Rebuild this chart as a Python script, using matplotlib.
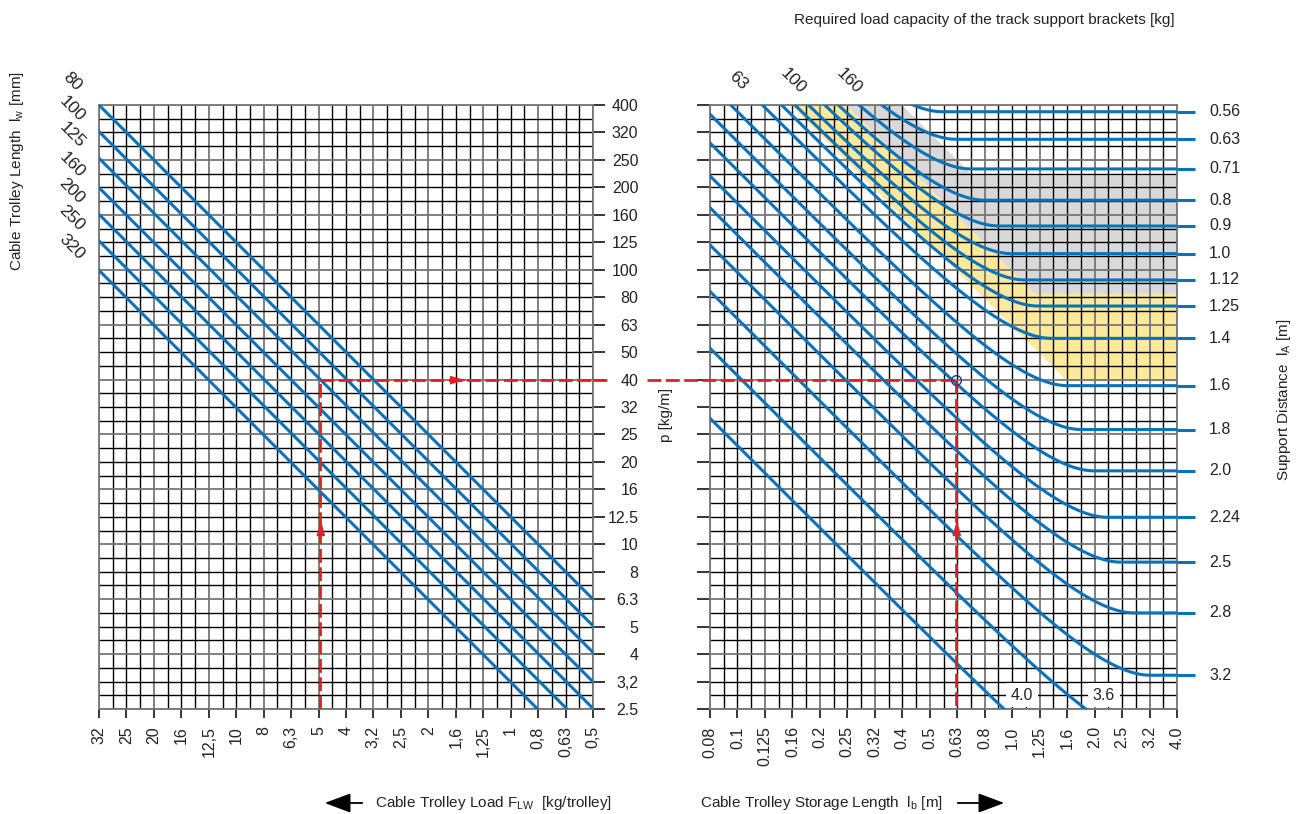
import numpy as np
import matplotlib.pyplot as plt
from matplotlib.patches import FancyArrowPatch
from matplotlib.ticker import NullFormatter
from matplotlib.transforms import blended_transform_factory

plt.rcParams['font.family'] = ['Liberation Sans', 'DejaVu Sans']
plt.rcParams['text.color'] = '#222222'

# tick labels (R10 series, one grid step apart)
p_labels = ['400', '320', '250', '200', '160', '125', '100', '80', '63', '50', '40', '32',
            '25', '20', '16', '12.5', '10', '8', '6.3', '5', '4', '3,2', '2.5']
F_labels = ['32', '25', '20', '16', '12,5', '10', '8', '6,3', '5', '4', '3,2', '2,5', '2',
            '1,6', '1,25', '1', '0,8', '0,63', '0,5']
lb_labels = ['0.08', '0.1', '0.125', '0.16', '0.2', '0.25', '0.32', '0.4', '0.5', '0.63',
             '0.8', '1.0', '1.25', '1.6', '2.0', '2.5', '3.2', '4.0']

# left chart: cable trolley length l_w [mm]
lw_mm = [80, 100, 125, 160, 200, 250, 320]

# right chart: support distance l_A [m] and the p level [kg/m] where each curve runs flat
lA_labels = ['0.56', '0.63', '0.71', '0.8', '0.9', '1.0', '1.12', '1.25', '1.4', '1.6',
             '1.8', '2.0', '2.24', '2.5', '2.8', '3.2', '3.6', '4.0']
lA = [0.56, 0.63, 0.71, 0.8, 0.9, 1.0, 1.12, 1.25, 1.4, 1.6, 1.8, 2.0, 2.24, 2.5, 2.8, 3.2, 3.6, 4.0]
p_flat = [378, 300, 234, 180, 145, 115, 92.2, 74.1, 56.5, 38.0, 26.3, 18.6, 12.6, 8.65, 5.65,
          3.35, 1.85, 0.925]

# required bracket capacity [kg] and the p level of the flat part of each zone border
bracket_kg = [63, 100, 160]
bracket_flat = [39.5, 82.4, 222.5]

# worked example
ex_F = 5
ex_p = 40
ex_lb = 0.63

BLUE = '#0a72b8'
RED = '#e1202a'
GREY = '#767676'
YELLOW = '#fde99c'
SHADE = '#d9d9d9'

W, H = 1306, 814
fig = plt.figure(figsize=(W / 100, H / 100), dpi=100)
ax1 = fig.add_axes([99 / W, 1 - 709 / H, 494 / W, 604 / H])
ax2 = fig.add_axes([710 / W, 1 - 709 / H, 467 / W, 604 / H])

p_pos = 400 * 10 ** (-0.1 * np.arange(len(p_labels)))
F_pos = 32 * 10 ** (-0.1 * np.arange(len(F_labels)))
lb_pos = 0.08 * 10 ** (0.1 * np.arange(len(lb_labels)))


def setup(ax, xpos, xlabels, xstep):
    ax.set_xscale('log')
    ax.set_yscale('log')
    ax.set_xlim(xpos[0], xpos[-1])
    ax.set_ylim(p_pos[-1], p_pos[0])
    ax.set_xticks(xpos, labels=xlabels)
    ax.set_xticks(xpos[:-1] * 10 ** (0.05 * xstep), minor=True)
    ax.set_yticks(p_pos, labels=p_labels)
    ax.set_yticks(p_pos[:-1] * 10 ** -0.05, minor=True)
    ax.xaxis.set_minor_formatter(NullFormatter())
    ax.yaxis.set_minor_formatter(NullFormatter())
    ax.tick_params(which='minor', length=0)
    ax.grid(True, which='both', color='black', lw=1.0)
    ax.set_axisbelow(True)
    ax.tick_params(axis='x', which='major', length=6.5, width=1.1, pad=6,
                   labelsize=11.5, labelrotation=90, labelcolor='#222222')
    for i, t in enumerate(ax.xaxis.get_major_ticks()):
        c = GREY if i % 2 == 0 else 'black'
        t.tick1line.set_color(c)
        t.gridline.set_color(c)
        t.gridline.set_linewidth(1.3 if i % 2 == 0 else 1.0)
    for i, t in enumerate(ax.yaxis.get_major_ticks()):
        c = GREY if i % 2 == 0 else 'black'
        t.tick1line.set_color(c)
        t.tick2line.set_color(c)
        t.gridline.set_color(c)
        t.gridline.set_linewidth(1.3 if i % 2 == 0 else 1.0)
    for s in ax.spines.values():
        s.set_color(GREY)
        s.set_linewidth(1.3)


setup(ax1, F_pos, F_labels, -1)
setup(ax2, lb_pos, lb_labels, 1)

ax1.yaxis.tick_right()
ax1.tick_params(axis='y', which='major', length=8.6, width=1.1, pad=24, labelsize=11.5,
                labelcolor='#222222')
for lab in ax1.get_yticklabels():
    lab.set_horizontalalignment('right')
ax2.tick_params(axis='y', which='major', length=9.4, width=1.1, labelleft=False)

# ---- left chart: p = F / l_w
F = np.geomspace(F_pos[-1], F_pos[0], 300)
for l in lw_mm:
    ax1.plot(F, 1000 * F / l, color=BLUE, lw=2.2, zorder=3)
    ax1.annotate(str(l), xy=(F_pos[0], 1000 * F_pos[0] / l), xytext=(-27, 23),
                 textcoords='offset pixels', rotation=-45, ha='center', va='center',
                 fontsize=12.5, annotation_clip=False)

# ---- right chart: bracket load zones
b = np.geomspace(lb_pos[0], lb_pos[-1], 1500)
borders = [np.maximum(kg / b, lev) for kg, lev in zip(bracket_kg, bracket_flat)]
ax2.fill_between(b, borders[0], borders[1], color=YELLOW, lw=0, zorder=0.5)
ax2.fill_between(b, borders[1], borders[2], color=SHADE, lw=0, zorder=0.5)
for kg in bracket_kg:
    ax2.annotate(str(kg), xy=(kg / p_pos[0], p_pos[0]), xytext=(-53, 24),
                 textcoords='offset pixels', rotation=-45, ha='center', va='center',
                 fontsize=12.5, annotation_clip=False)

# ---- right chart: support distance curves
trans2 = blended_transform_factory(ax2.transAxes, ax2.transData)
for L, P, lab in zip(lA, p_flat, lA_labels):
    bb = np.unique(np.append(b, L)) if L < lb_pos[-1] else b
    p = np.where(bb < L, P * 5 * L ** 4 / (bb * (8 * L ** 3 - 4 * L * bb ** 2 + bb ** 3)), P)
    ax2.plot(bb, p, color=BLUE, lw=2.2, zorder=3)
    if P >= p_pos[-1]:
        ax2.plot([1.0, 1.0385], [P, P], transform=trans2, color=BLUE, lw=2.2,
                 clip_on=False, solid_capstyle='butt', zorder=3)
        ax2.text(1.0685, P, lab, transform=trans2, ha='left', va='center', fontsize=11.5)
    else:
        b_end = np.interp(np.log(p_pos[-1]), np.log(p[::-1]), bb[::-1])
        ax2.annotate(lab, xy=(b_end, p_pos[-1]), xytext=(18, 14), textcoords='offset pixels',
                     ha='center', va='center', fontsize=11.5, zorder=5,
                     bbox=dict(boxstyle='square,pad=0.3', fc='white', ec='none'))

# ---- worked example (red guide)
dash = (0, (5, 1.6))
up = [(-0.55, -1), (0.55, -1), (0, 1)]
right = [(-1, -0.55), (-1, 0.55), (1, 0)]
ax1.plot([ex_F, ex_F], [p_pos[-1], ex_p], color=RED, lw=2.0, ls=dash, zorder=4)
ax1.plot([ex_F, F_pos[-1]], [ex_p, ex_p], color=RED, lw=2.0, ls=dash, zorder=4)
trans1 = blended_transform_factory(ax1.transAxes, ax1.transData)
ax1.plot([1.0, 1.035], [ex_p, ex_p], transform=trans1, color=RED, lw=2.0, ls=dash,
         clip_on=False, zorder=4)
ax1.plot(ex_F, p_pos[-1] * (ex_p / p_pos[-1]) ** 0.55, marker=up, ms=10, color=RED, zorder=5)
ax1.plot(ex_F * (F_pos[-1] / ex_F) ** 0.5, ex_p, marker=right, ms=10, color=RED, zorder=5)

frac = np.log(ex_lb / lb_pos[0]) / np.log(lb_pos[-1] / lb_pos[0])
ax2.plot([-0.135, frac], [ex_p, ex_p], transform=trans2, color=RED, lw=2.0, ls=dash,
         clip_on=False, zorder=4)
ax2.plot([ex_lb, ex_lb], [ex_p, p_pos[-1]], color=RED, lw=2.0, ls=dash, zorder=4)
ax2.plot(ex_lb, p_pos[-1] * (ex_p / p_pos[-1]) ** 0.55, marker=up, ms=10, color=RED, zorder=5)
ax2.plot(ex_lb, ex_p, 'o', mfc='none', mec='#2e3192', ms=7, mew=1.0, zorder=6)

# ---- axis titles
fig.text(17 / W, 1 - 171 / H, 'Cable Trolley Length  $\\mathregular{l_w}$ [mm]', rotation=90,
         ha='center', va='center', fontsize=11)
fig.text(666 / W, 1 - 415 / H, 'p [kg/m]', rotation=90, ha='center', va='center', fontsize=11)
fig.text(1284 / W, 1 - 400 / H, 'Support Distance  $\\mathregular{l_A}$ [m]', rotation=90,
         ha='center', va='center', fontsize=11)
fig.text(984 / W, 1 - 20 / H, 'Required load capacity of the track support brackets [kg]',
         ha='center', va='center', fontsize=11)
fig.text(375 / W, 1 - 803 / H, 'Cable Trolley Load $\\mathregular{F_{LW}}$  [kg/trolley]',
         ha='left', va='center', fontsize=11)
fig.text(700 / W, 1 - 803 / H, 'Cable Trolley Storage Length  $\\mathregular{l_b}$ [m]',
         ha='left', va='center', fontsize=11)
for x0, x1 in [(365, 322), (955, 1007)]:
    fig.add_artist(FancyArrowPatch((x0 / W, 1 - 803 / H), (x1 / W, 1 - 803 / H),
                                   transform=fig.transFigure, color='black', lw=1.3,
                                   arrowstyle='-|>,head_length=0.8,head_width=0.3',
                                   mutation_scale=20))

fig.savefig('out.png', dpi=100)
